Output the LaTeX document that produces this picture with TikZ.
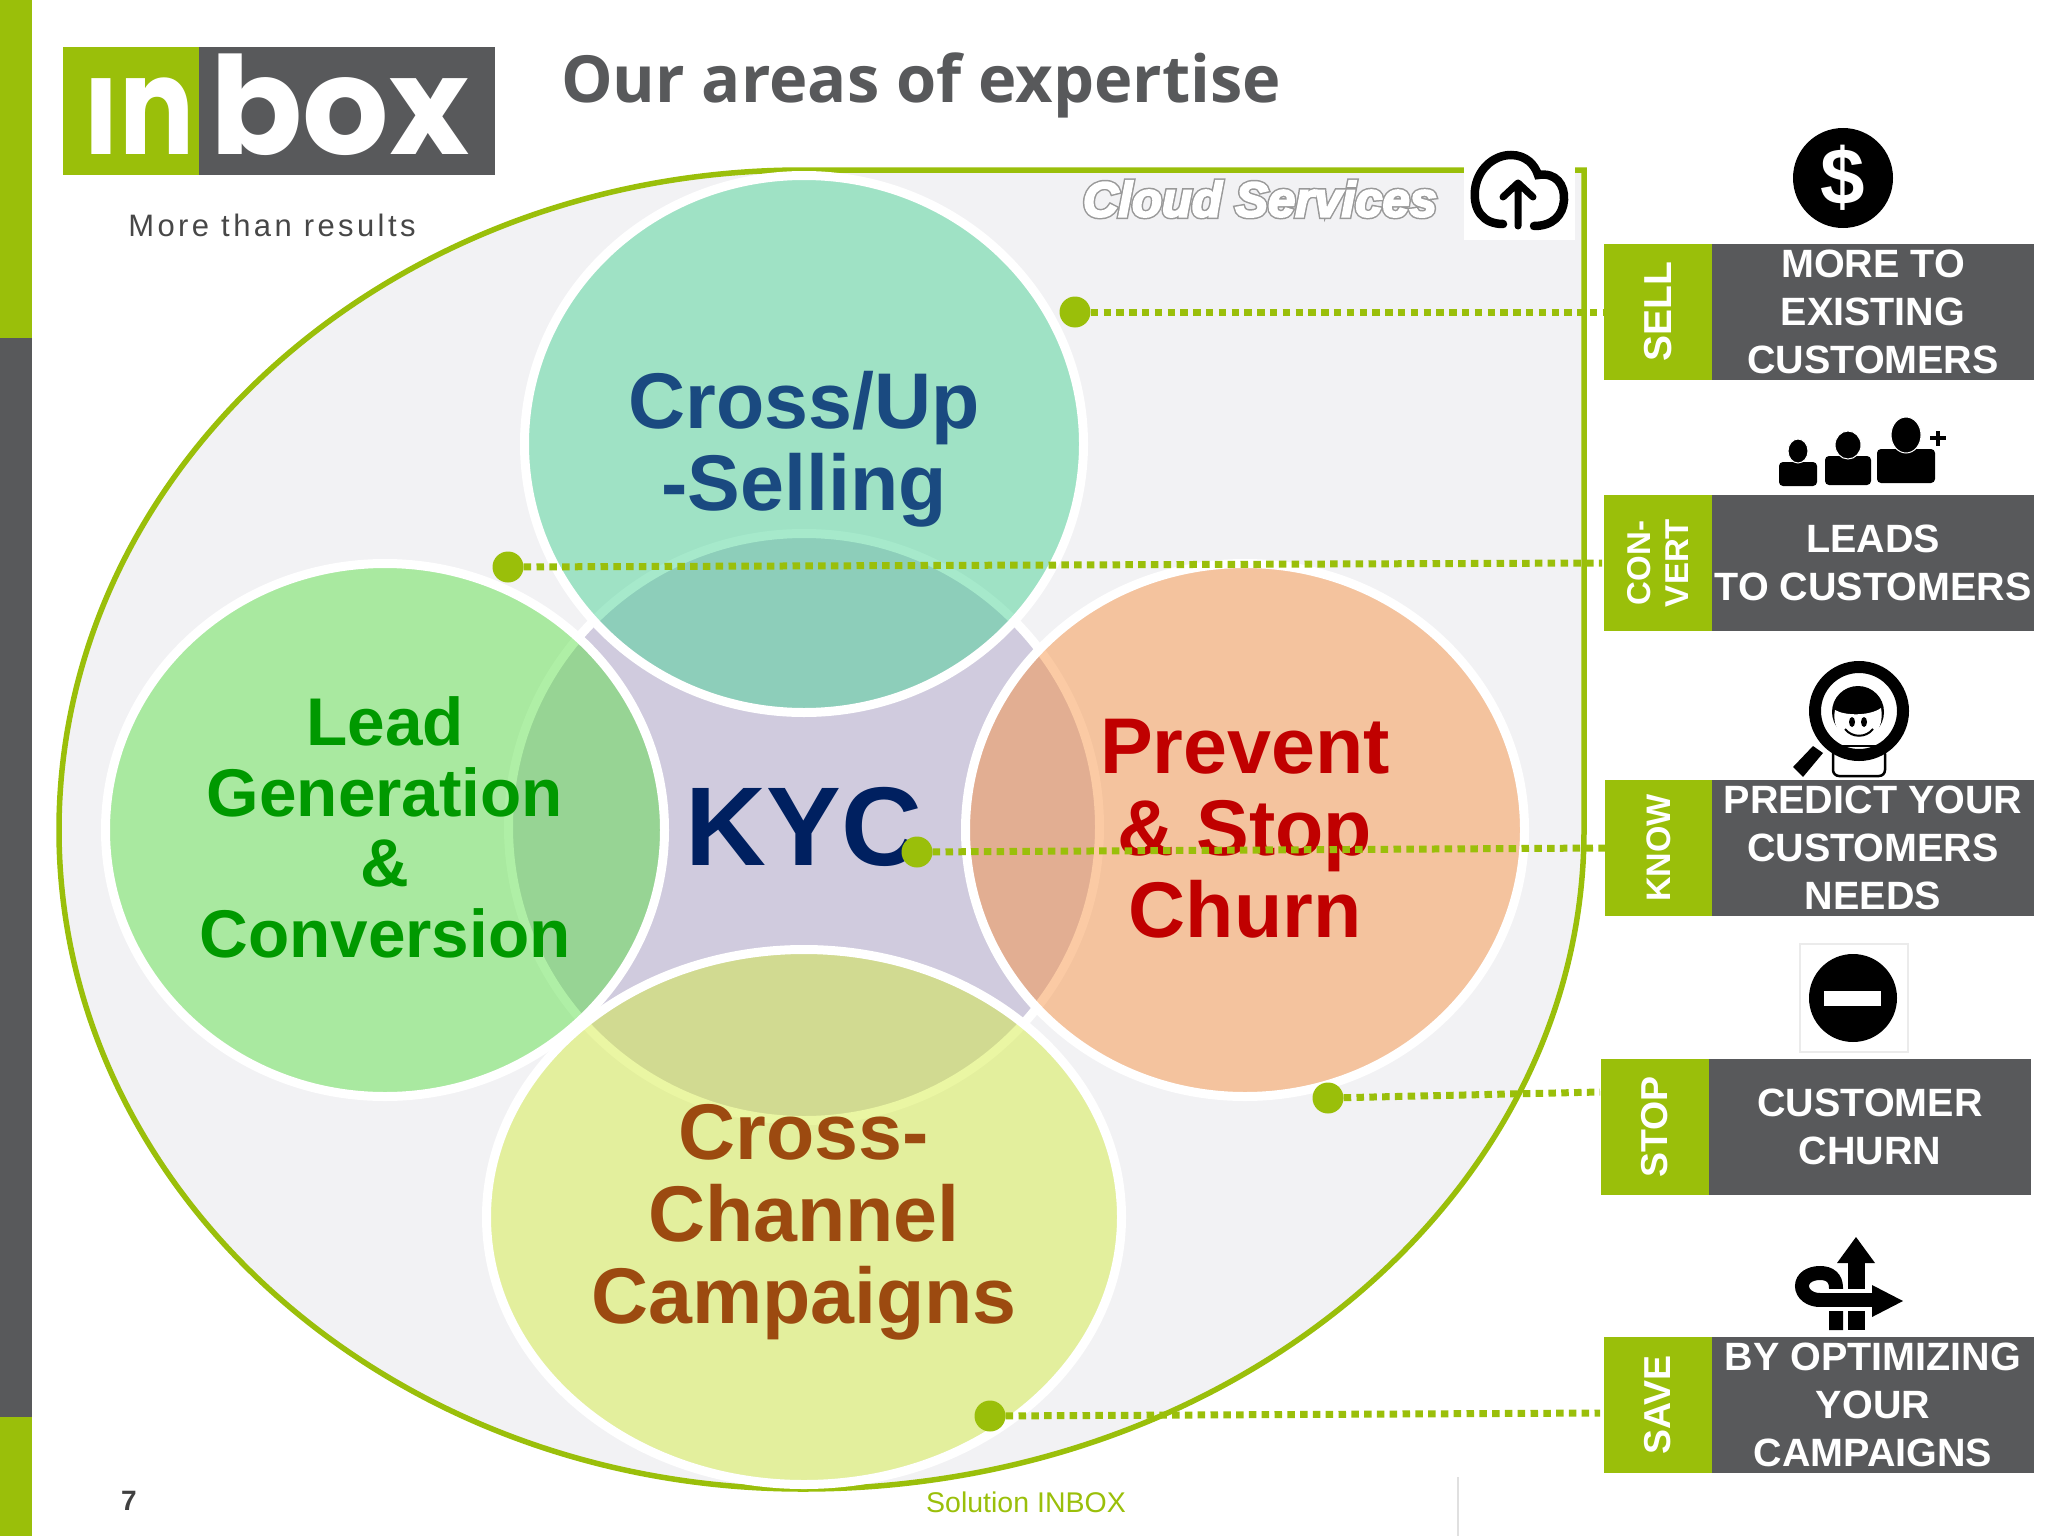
\documentclass[tikz,border=0pt]{standalone}
\usepackage{fontspec}
\setmainfont{Liberation Sans}
\newfontfamily\titlefont{Open Sans}
\newfontfamily\logofont{Poppins}
\usetikzlibrary{shapes.geometric}
\definecolor{inkgreen}{HTML}{9ABF0A}
\definecolor{inkgray}{HTML}{58595B}
\definecolor{areafill}{HTML}{F2F2F4}
\definecolor{kycfill}{HTML}{D0CBDE}
\definecolor{tealfill}{HTML}{42D292}
\definecolor{leadfill}{HTML}{57DF42}
\definecolor{churnfill}{HTML}{F78F3E}
\definecolor{campfill}{HTML}{D3EC3C}
\begin{document}
\begin{tikzpicture}[x=1pt,y=-1pt,
    blob/.style={ellipse, draw=white, line width=9pt, fill opacity=0.47, draw opacity=1, inner sep=0pt},
    blobtext/.style={align=center, inner sep=0pt, font=\bfseries\fontsize{79}{82}\selectfont},
    tagbox/.style={fill=inkgreen, text=white, rotate=90, minimum width=136pt, minimum height=108pt, inner sep=0pt, align=center, font=\bfseries\fontsize{37.5}{40}\selectfont},
    msgbox/.style={fill=inkgray, text=white, minimum width=322pt, minimum height=136pt, inner sep=0pt, align=center, font=\bfseries\fontsize{39.5}{47.7}\selectfont},
    dot/.style={circle, fill=inkgreen, minimum size=31pt, inner sep=0pt},
    dotline/.style={draw=inkgreen, line width=7pt, dash pattern=on 7.5pt off 5.3pt},
    cloudtext/.style={text=white, font=\bfseries\itshape\fontsize{49}{50}\selectfont}]
    \useasboundingbox (0,0) rectangle (2048,1536);
    % side bar
    \fill[inkgreen] (0,0) rectangle (32,338);
    \fill[inkgray] (0,338) rectangle (32,1417);
    \fill[inkgreen] (0,1417) rectangle (32,1536);
    % logo
    \fill[inkgreen] (63,47) rectangle (199,175);
    \fill[inkgray] (199,47) rectangle (495,175);
    \node[anchor=base, text=white, inner sep=0pt, xscale=0.82, font=\logofont\bfseries\fontsize{136}{136}\selectfont] (logoin) at (139,154) {ın};
    \node[anchor=base, text=white, inner sep=0pt, font=\logofont\bfseries\fontsize{136}{136}\selectfont] (logobox) at (340,154) {box};
    \node[text=black!72, font=\fontsize{31}{32}\selectfont\addfontfeatures{LetterSpace=11}] (tagline) at (272,225) {More than results};
    \node[anchor=west, inner sep=0pt, text=inkgray, font=\titlefont\bfseries\fontsize{65}{70}\selectfont] (title) at (561,85) {Our areas of expertise};
    % big area
    \draw[draw=inkgreen, fill=areafill, line width=5.5pt] (1584,170) -- (1584,830) arc[start angle=0, end angle=90, x radius=781, y radius=659] arc[start angle=90, end angle=180, x radius=744, y radius=659] arc[start angle=180, end angle=270, x radius=744, y radius=660] -- cycle;
    \fill[white] (1464,166) rectangle (1575,240);
    % center and circles
    \node[ellipse, draw=white, line width=9pt, fill=kycfill, minimum width=591pt, minimum height=587pt, inner sep=0pt, text={rgb,255:red,0;green,32;blue,96}, font=\bfseries\fontsize{112}{112}\selectfont] (kyc) at (804,827) {KYC};
    \node[blob, fill=tealfill, minimum width=559pt, minimum height=537pt] (crossup) at (804,444) {};
    \node[blob, fill=leadfill, minimum width=559pt, minimum height=533pt] (lead) at (385,830) {};
    \node[blob, fill=churnfill, minimum width=559pt, minimum height=533pt] (churn) at (1245,830) {};
    \node[blob, fill=campfill, minimum width=635pt, minimum height=535pt] (campaign) at (804,1217) {};
    \node[blobtext, text={rgb,255:red,26;green,74;blue,128}] (crossuptext) at (804,449) {Cross/Up\\-Selling};
    \node[blobtext, text={rgb,255:red,0;green,153;blue,0}, font=\bfseries\fontsize{67.5}{70.5}\selectfont] (leadtext) at (385,827.5) {Lead\\Generation\\\&\\Conversion};
    \node[blobtext, text={rgb,255:red,192;green,0;blue,0}] (churntext) at (1245,829) {Prevent\\\& Stop\\Churn};
    \node[blobtext, text={rgb,255:red,156;green,74;blue,16}] (campaigntext) at (804,1222) {Cross-\\Channel\\Campaigns};
    % cloud services
    \node[cloudtext] (cloudedge) at (1260,199) {\special{pdf:code 0.6 G 2 Tr 5 w}Cloud Services\special{pdf:code 0 Tr 1 w}};
    \node[cloudtext] (cloud) at (1260,199) {\special{pdf:code 1 G 2 Tr 2 w}Cloud Services\special{pdf:code 0 Tr 1 w}};
    \draw[line width=8.5pt, line cap=round] (1503,224) .. controls (1483,224) and (1473,210) .. (1475,190) .. controls (1477,170) and (1493,155) .. (1511,155) .. controls (1526,155) and (1535,165) .. (1538,175) .. controls (1556,172) and (1565,185) .. (1564,200) .. controls (1563,215) and (1553,226) .. (1534,226);
    \draw[line width=7pt, line cap=round, line join=round] (1518,226) -- (1518,183) (1503,197) -- (1518,183) -- (1533,197);
    % boxes
    \node[tagbox, font=\bfseries\fontsize{39}{40}\selectfont] (sell) at (1658,312) {SELL};
    \node[msgbox] (sellmsg) at (1873,312) {MORE TO\\EXISTING\\CUSTOMERS};
    \node[tagbox, font=\bfseries\fontsize{33}{38}\selectfont] (convert) at (1658,563) {CON-\\VERT};
    \node[msgbox] (convertmsg) at (1873,563) {LEADS\\TO CUSTOMERS};
    \node[tagbox, font=\bfseries\fontsize{34}{36}\selectfont] (know) at (1659,848) {KNOW};
    \node[msgbox] (knowmsg) at (1873,848) {PREDICT YOUR\\CUSTOMERS\\NEEDS};
    \node[tagbox] (stop) at (1655,1127) {STOP};
    \node[msgbox] (stopmsg) at (1870,1127) {CUSTOMER\\CHURN};
    \node[tagbox] (save) at (1658,1405) {SAVE};
    \node[msgbox] (savemsg) at (1873,1405) {BY OPTIMIZING\\YOUR\\CAMPAIGNS};
    % dots and lines
    \node[dot] (selldot) at (1075,312) {};
    \node[dot] (convertdot) at (508,567) {};
    \node[dot] (knowdot) at (917,852) {};
    \node[dot] (stopdot) at (1328,1098) {};
    \node[dot] (savedot) at (990,1416) {};
    \coordinate (convertend) at (1602,563);
    \coordinate (stopend) at (1600,1092);
    \coordinate (saveend) at (1600,1413);
    \draw[dotline] (selldot) -- (sell.north);
    \draw[dotline] (convertdot) -- (convertend);
    \draw[dotline] (knowdot) -- (know.north);
    \draw[dotline] (stopdot) -- (stopend);
    \draw[dotline] (savedot) -- (saveend);
    % dollar
    \node[circle, fill=black, text=white, minimum size=100pt, inner sep=0pt, font=\bfseries\fontsize{80}{80}\selectfont] (dollar) at (1843,178) {\$};
    % people
    \foreach \px/\hy/\hx/\hh/\bw/\bt/\bb in {1798/451/10/12/19/462/486, 1848/445/13/14/23/456/485, 1906/435/15/18/29/449/483}{
        \fill[rounded corners=4pt] (\px-\bw,\bt) rectangle (\px+\bw,\bb);
        \draw[white, fill=black, line width=1pt] (\px,\hy) ellipse[x radius=\hx, y radius=\hh];
    }
    \draw[line width=4pt] (1930,438) -- (1946,438) (1938,431) -- (1938,446);
    % magnifier
    \draw[line width=2.5pt, fill=white, rounded corners=6pt] (1833,748) rectangle (1885,776);
    \fill (1793,767) -- (1803,777) -- (1823,753) -- (1813,746) -- cycle;
    \draw[line width=12pt, fill=white] (1859,711) circle[radius=44];
    \fill (1858,712) ellipse[x radius=26, y radius=26];
    \fill[white] (1835,710) .. controls (1845,716) and (1870,716) .. (1881,708) .. controls (1885,730) and (1870,742) .. (1858,742) .. controls (1846,742) and (1831,730) .. (1835,710) -- cycle;
    \fill (1852,722) ellipse[x radius=3, y radius=5];
    \fill (1864,722) ellipse[x radius=3, y radius=5];
    \draw[line width=2pt] (1845,729) .. controls (1852,738) and (1866,738) .. (1873,729);
    \draw[line width=2pt] (1840,746) -- (1876,746);
    % minus sign
    \node[draw=black!8, fill=white, line width=1.5pt, minimum size=108pt] (minusbox) at (1854,998) {};
    \node[circle, fill=black, minimum size=88pt, inner sep=0pt] (minus) at (1853,998) {};
    \fill[white] (1824,991) rectangle (1881,1006);
    % arrows
    \fill (1848,1330) rectangle (1865,1263);
    \fill (1856,1237) -- (1875,1263) -- (1837,1263) -- cycle;
    \draw[line width=14pt] (1836,1330) -- (1836,1288) .. controls (1836,1278) and (1830,1273) .. (1820,1273) .. controls (1810,1273) and (1802,1278) .. (1802,1286) .. controls (1802,1294) and (1810,1300) .. (1820,1300);
    \draw[white, line width=22pt] (1826,1300) -- (1870,1300);
    \draw[line width=14pt] (1818,1300) -- (1875,1300);
    \fill (1872,1285) -- (1903,1301) -- (1872,1317) -- cycle;
    % footer
    \node[text=black!75, font=\bfseries\fontsize{28}{30}\selectfont] (pagenum) at (129,1501) {7};
    \node[text=inkgreen, font=\fontsize{28.5}{30}\selectfont] (footer) at (1026,1502) {Solution INBOX};
    \coordinate (footup) at (1458,1477);
    \coordinate (footdown) at (1458,1536);
    \draw[black!12, line width=1.5pt] (footup) -- (footdown);
\end{tikzpicture}
\end{document}
